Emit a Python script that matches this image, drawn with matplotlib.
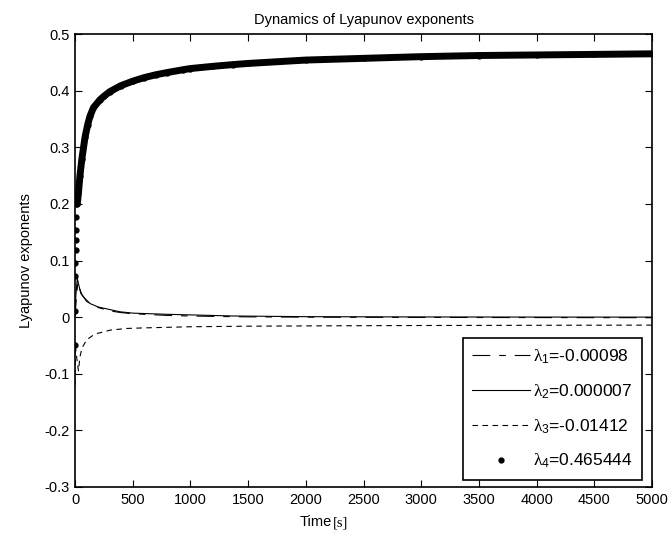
import matplotlib
matplotlib.use("Agg")
import matplotlib.pyplot as plt
from matplotlib.lines import Line2D

plt.rcParams['font.family'] = ['Liberation Sans', 'DejaVu Sans']
plt.rcParams['mathtext.fontset'] = 'custom'
plt.rcParams['mathtext.rm'] = 'Liberation Serif'
plt.rcParams['mathtext.it'] = 'Liberation Serif'
plt.rcParams['mathtext.sf'] = 'Liberation Sans'

# ---- data ----
t1 = [0, 10, 25, 40, 60, 100, 150, 200, 300, 400, 500, 700, 800, 1000, 1300, 1500, 2000, 2500, 3000, 4000, 5000]
lam1 = [0.0, 0.03, 0.062, 0.05, 0.04, 0.028, 0.022, 0.017, 0.011, 0.008, 0.006, 0.004, 0.003, 0.002, 0.001, 0.0005, 0.0, -0.0003, -0.0005, -0.0008, -0.00098]

t2 = [0, 8, 20, 35, 50, 72, 100, 130, 200, 243, 390, 505, 795, 1083, 1372, 2000, 3000, 4000, 5000]
lam2 = [0.0, 0.04, 0.068, 0.055, 0.042, 0.036, 0.03, 0.024, 0.018, 0.016, 0.0094, 0.007, 0.005, 0.0035, 0.002, 0.0008, 0.0003, 0.0001, 0.000007]

t3 = [0, 3, 8, 20, 30, 43, 60, 101, 150, 188, 250, 303, 448, 600, 800, 1000, 1500, 2000, 3000, 4000, 5000]
lam3 = [-0.12, -0.05, -0.06, -0.08, -0.095, -0.07, -0.055, -0.04, -0.033, -0.029, -0.026, -0.023, -0.02, -0.019, -0.018, -0.017, -0.016, -0.0155, -0.0148, -0.0144, -0.01412]

t4 = [1, 2, 3, 4, 5, 6, 8, 10, 12, 15, 20, 30, 43, 60, 87, 110, 130, 160, 217, 250, 300, 400, 505, 600, 700, 800, 939, 1000, 1200, 1372, 1500, 2000, 2500, 3000, 3500, 4000, 4500, 5000]
lam4 = [-0.05, 0.01, 0.072, 0.095, 0.118, 0.136, 0.153, 0.177, 0.2, 0.22, 0.2, 0.22, 0.25, 0.28, 0.318, 0.34, 0.355, 0.37, 0.384, 0.39, 0.398, 0.409, 0.417, 0.423, 0.428, 0.432, 0.437, 0.439, 0.443, 0.446, 0.448, 0.454, 0.457, 0.460, 0.462, 0.463, 0.464, 0.465]

labels = [r"$\lambda_{\mathsf{1}}$=-0.00098", r"$\lambda_{\mathsf{2}}$=0.000007",
          r"$\lambda_{\mathsf{3}}$=-0.01412", r"$\lambda_{\mathsf{4}}$=0.465444"]

fig = plt.figure(figsize=(6.68, 5.36), dpi=100)
ax = fig.add_axes([75/668, 49/536, 577/668, 453/536])

ax.plot(t1, lam1, color='black', lw=0.8, linestyle=(0, (16, 8, 6, 8)))
ax.plot(t2, lam2, color='black', lw=0.8, linestyle='-')
ax.plot(t3, lam3, color='black', lw=0.8, linestyle=(0, (5, 4)))
ax.plot(t4[10:], lam4[10:], color='black', lw=5, solid_capstyle='round')
ax.plot(t4, lam4, color='black', linestyle='none', marker='.', markersize=7)

ax.set_xlim(0, 5000)
ax.set_ylim(-0.3, 0.5)
ax.set_xticks(range(0, 5001, 500))
ax.set_yticks([-0.3, -0.2, -0.1, 0, 0.1, 0.2, 0.3, 0.4, 0.5])
ax.set_yticklabels(['-0.3', '-0.2', '-0.1', '0', '0.1', '0.2', '0.3', '0.4', '0.5'])
ax.tick_params(direction='in', length=5, width=0.8, top=True, right=True, labelsize=10.5, pad=4)
for s in ax.spines.values():
    s.set_linewidth(1.2)

ax.set_title("Dynamics of Lyapunov exponents", fontsize=10.5, pad=7)
ax.set_ylabel("Lyapunov exponents", fontsize=10.5, labelpad=8)
fig.text(300/668, 1 - 522/536, "Time", fontsize=10.5, ha='left', va='center')
fig.text(333/668, 1 - 523/536, "[s]", fontsize=10.5, ha='left', va='center', family='Liberation Serif')

handles = [
    Line2D([], [], color='black', lw=0.8, linestyle=(0, (16, 8, 6, 8))),
    Line2D([], [], color='black', lw=0.8, linestyle='-'),
    Line2D([], [], color='black', lw=0.8, linestyle=(0, (5, 4))),
    Line2D([], [], color='black', linestyle='none', marker='.', markersize=7),
]
leg = ax.legend(handles, labels, loc='lower right', bbox_to_anchor=(0.983, 0.0155),
                borderaxespad=0, fontsize=12.5, handlelength=3.3, labelspacing=0.95,
                handletextpad=0.2, fancybox=False, framealpha=1, borderpad=0.55)
leg.get_frame().set_edgecolor('black')
leg.get_frame().set_linewidth(1.2)

fig.savefig("out.png", dpi=100)
